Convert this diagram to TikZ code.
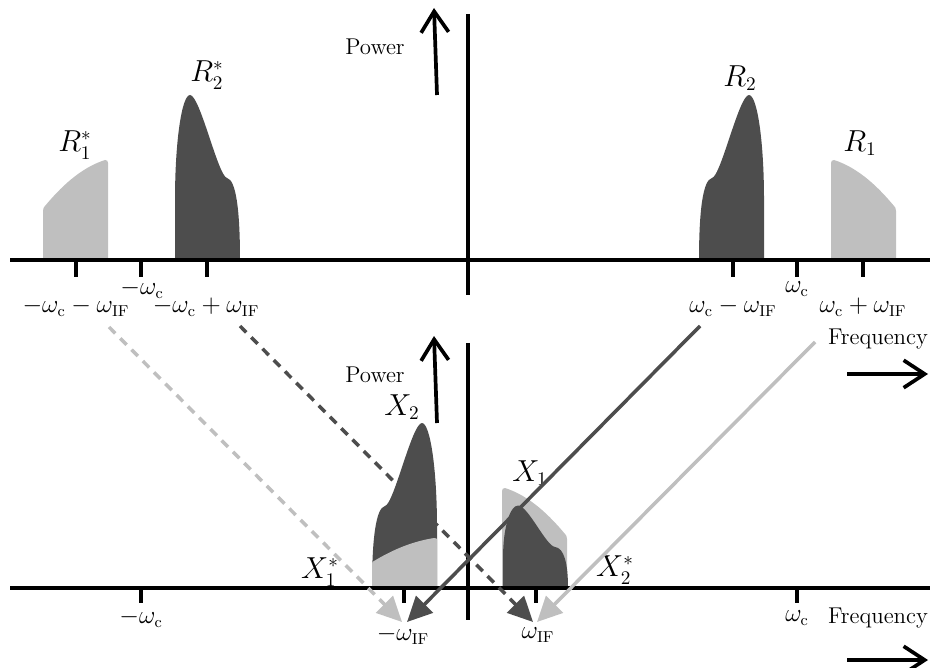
\documentclass[tikz,border=0pt]{standalone}
\usepackage{amsmath}
\usetikzlibrary{arrows.meta}
\definecolor{darkband}{HTML}{4D4D4D}
\definecolor{lightband}{HTML}{BFBFBF}
% band outlines: origin at the left foot, heights upwards, 65 wide
\newcommand{\peakband}[1]{\fill[#1] (0,0) .. controls (0,50) and (4,80) .. (13,82)
  .. controls (22,84) and (40,165) .. (50,165) .. controls (58,165) and (65,120) .. (65,60)
  -- (65,0) -- cycle;}
\newcommand{\slopeband}[1]{\fill[#1] (0,0) -- (0,97) .. controls (0,99) and (1,100) .. (3,100)
  .. controls (28,92) and (48,72) .. (63,54) .. controls (64,53) and (65,52) .. (65,49)
  -- (65,0) -- cycle;}

\begin{document}
\begin{tikzpicture}[
    x=0.02cm, y=-0.02cm,
    axis/.style={line width=2.1pt, black},
    tickmark/.style={line width=2.1pt, black},
    bigarrow/.style={line width=2.1pt, -{Straight Barb[length=0.42cm, width=0.55cm, line width=2.1pt]}},
    txt/.style={font=\fontsize{13}{15}\selectfont, inner sep=0pt},
    lbl/.style={font=\fontsize{13.5}{16}\selectfont, inner sep=0pt},
    bandlbl/.style={font=\fontsize{16}{19}\selectfont, inner sep=0pt},
    mixline/.style={line width=2pt, -{Triangle[length=0.5cm, width=0.47cm]}},
    dashline/.style={mixline, dash pattern=on 0.18cm off 0.14cm}
]
  \useasboundingbox (0,0) rectangle (935,668);

  % Upper spectrum: received bands
  \begin{scope}[shift={(108,260)}, xscale=-1, yscale=-1] \slopeband{lightband} \end{scope}
  \begin{scope}[shift={(240,260)}, xscale=-1, yscale=-1] \peakband{darkband} \end{scope}
  \begin{scope}[shift={(699,260)}, yscale=-1] \peakband{darkband} \end{scope}
  \begin{scope}[shift={(831,260)}, yscale=-1] \slopeband{lightband} \end{scope}

  % Lower spectrum: mixed-down bands
  \begin{scope}[shift={(372,588)}, yscale=-1] \peakband{darkband} \end{scope}
  \begin{scope}[shift={(437,588)}, xscale=-1, yscale=-0.5] \slopeband{lightband} \end{scope}
  \begin{scope}[shift={(502,588)}, yscale=-1] \slopeband{lightband} \end{scope}
  \begin{scope}[shift={(568,588)}, xscale=-1, yscale=-0.5] \peakband{darkband} \end{scope}

  % Axes
  \draw[axis] (10,260) -- (930,260);
  \draw[axis] (468,14) -- (468,295);
  \draw[axis] (10,588) -- (930,588);
  \draw[axis] (468,343) -- (468,620);

  % Ticks
  \foreach \n/\xp in {a/76, b/141, c/207, d/733, e/797, f/863}
    \draw[tickmark] (\xp,260) -- ++(0,17) coordinate (tu\n);
  \foreach \n/\xp in {a/141, b/404, c/536, d/797}
    \draw[tickmark] (\xp,588) -- ++(0,15) coordinate (tl\n);

  % Direction arrows
  \coordinate (pu0) at (437,95);  \coordinate (pu1) at (434,8);
  \coordinate (pl0) at (437,423); \coordinate (pl1) at (434,336);
  \coordinate (fu0) at (847,374); \coordinate (fu1) at (928,374);
  \coordinate (fl0) at (847,660); \coordinate (fl1) at (928,660);
  \draw[bigarrow] (pu0) -- (pu1);
  \draw[bigarrow] (pl0) -- (pl1);
  \draw[bigarrow] (fu0) -- (fu1);
  \draw[bigarrow] (fl0) -- (fl1);

  % Texts
  \node[txt] (powu) at (375,47) {Power};
  \node[txt] (powl) at (375,375) {Power};
  \node[txt] (frqu) at (878,339) {Frequency};
  \node[txt] (frql) at (878,618) {Frequency};

  \node[bandlbl] (r1s) at (75,145) {$R_1^*$};
  \node[bandlbl] (r2s) at (207,75) {$R_2^*$};
  \node[bandlbl] (r2)  at (740,78) {$R_2$};
  \node[bandlbl] (r1)  at (860,143) {$R_1$};
  \node[bandlbl] (x2)  at (402,407) {$X_2$};
  \node[bandlbl] (x1)  at (530,473) {$X_1$};
  \node[bandlbl] (x1s) at (320,572) {$X_1^*$};
  \node[bandlbl] (x2s) at (615,570) {$X_2^*$};

  \node[lbl] (lua) at (76,307)  {$-\omega_\mathrm{c}-\omega_\mathrm{IF}$};
  \node[lbl] (lub) at (142,289) {$-\omega_\mathrm{c}$};
  \node[lbl] (luc) at (206,307) {$-\omega_\mathrm{c}+\omega_\mathrm{IF}$};
  \node[lbl] (lud) at (733,307) {$\omega_\mathrm{c}-\omega_\mathrm{IF}$};
  \node[lbl] (lue) at (797,289) {$\omega_\mathrm{c}$};
  \node[lbl] (luf) at (863,307) {$\omega_\mathrm{c}+\omega_\mathrm{IF}$};
  \node[lbl] (lla) at (141,618) {$-\omega_\mathrm{c}$};
  \node[lbl] (llb) at (403,635) {$-\omega_\mathrm{IF}$};
  \node[lbl] (llc) at (538,635) {$\omega_\mathrm{IF}$};
  \node[lbl] (lld) at (797,618) {$\omega_\mathrm{c}$};

  % Mixing paths
  \coordinate (m1a) at (109,327); \coordinate (m1b) at (402,622);
  \coordinate (m2a) at (240,326); \coordinate (m2b) at (533,622);
  \coordinate (m3a) at (700,326); \coordinate (m3b) at (407,622);
  \coordinate (m4a) at (815,342); \coordinate (m4b) at (537,622);
  \draw[dashline, lightband] (m1a) -- (m1b);
  \draw[dashline, darkband] (m2a) -- (m2b);
  \draw[mixline, darkband] (m3a) -- (m3b);
  \draw[mixline, lightband] (m4a) -- (m4b);
\end{tikzpicture}
\end{document}
